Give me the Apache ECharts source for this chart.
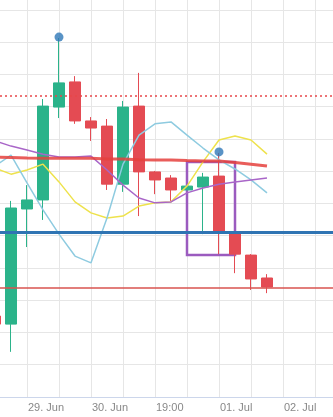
<!DOCTYPE html>
<html><head><meta charset="utf-8">
<script src="https://cdn.jsdelivr.net/npm/echarts@6/dist/echarts.min.js"></script>
<style>html,body{margin:0;padding:0;background:#fff}#c{width:333px;height:417px}</style>
</head><body><div id="c"></div>
<script>
const categories = ['0','1','2','3','4','5','6','7','8','9','10','11','12','13','14','15','16','17','18','19','20','21','22'];
const tickLabels = ['', '', '29. Jun', '', '', '', '30. Jun', '', '', '', '19:00', '', '', '', '01. Jul', '', '', '', '02. Jul', '', '', '', ''];
const opens  = [2.51, 2.26, 5.83, 6.11, 8.99, 9.77, 8.56, 8.40, 6.60, 9.02, 6.98, 6.79, 6.42, 6.51, 6.85, 5.09, 4.40, 3.69];
const closes = [2.26, 5.86, 6.11, 9.02, 9.74, 8.56, 8.34, 6.60, 8.99, 6.98, 6.73, 6.42, 6.54, 6.82, 5.15, 4.43, 3.66, 3.41];
const lows   = [2.20, 1.40, 4.65, 5.49, 8.65, 8.47, 7.94, 6.42, 6.36, 5.61, 6.29, 6.08, 6.42, 5.05, 4.43, 3.84, 3.32, 3.22];
const highs  = [2.64, 6.08, 6.57, 9.24, 11.13, 9.95, 8.68, 8.62, 9.18, 10.05, 7.01, 6.88, 6.54, 6.95, 7.57, 5.15, 4.43, 3.81];
const maRed    = [7.44, 7.43, 7.41, 7.40, 7.40, 7.40, 7.40, 7.38, 7.38, 7.36, 7.35, 7.35, 7.33, 7.32, 7.32, 7.27, 7.22, 7.16];
const maPurple = [7.94, 7.78, 7.66, 7.53, 7.44, 7.44, 7.47, 7.04, 6.57, 6.17, 6.02, 6.05, 6.33, 6.48, 6.60, 6.67, 6.73, 6.79];
const maYellow = [7.10, 6.91, 7.04, 7.22, 6.67, 6.05, 5.71, 5.55, 5.61, 5.92, 6.02, 6.05, 6.54, 7.29, 7.97, 8.09, 7.97, 7.53];
const maBlue   = [7.16, 7.50, 6.64, 5.80, 5.05, 4.37, 4.16, 5.55, 7.22, 8.12, 8.47, 8.53, 8.12, 7.72, 7.35, 7.07, 6.73, 6.33];
const levelBlue = 5.12, levelRed = 3.38, levelDotted = 9.33;
const flagIdx = ['4', '14'];
const flagVal = [11.16, 7.60];
const boxX = ['12', '15'];
const boxY = [7.29, 4.40];

const UP = '#2bb38a', DOWN = '#e44b53';
const chart = echarts.init(document.getElementById('c'), null, {renderer: 'canvas'});
chart.setOption({
  animation: false,
  backgroundColor: '#fff',
  grid: {left: -5, right: -14, top: 0, bottom: 20, containLabel: false, outerBoundsMode: 'none'},
  xAxis: {
    type: 'category', data: categories, boundaryGap: false,
    axisLine: {lineStyle: {color: '#ccd6eb', width: 1}},
    axisTick: {show: false},
    axisLabel: {
      interval: (i) => tickLabels[i] !== '',
      formatter: (v, i) => tickLabels[i],
      align: 'left', margin: 5, padding: [0, 0, 0, 1],
      color: '#888', fontSize: 11, fontFamily: 'Liberation Sans, Arial, sans-serif'
    },
    splitLine: {show: true, interval: 1, lineStyle: {color: '#e6e6e6', width: 1}}
  },
  yAxis: {
    type: 'value', min: 0, max: 12.31, interval: 1,
    axisLabel: {show: false}, axisLine: {show: false}, axisTick: {show: false},
    splitLine: {show: true, showMaxLine: false, lineStyle: {color: '#e6e6e6', width: 1}}
  },
  series: [
    {
      type: 'candlestick', barWidth: 11,
      data: opens.map((o, i) => [o, closes[i], lows[i], highs[i]]),
      itemStyle: {color: UP, color0: DOWN, borderColor: UP, borderColor0: DOWN, borderWidth: 1},
      z: 2
    },
    {type: 'line', data: maYellow, symbol: 'none', lineStyle: {color: '#eee24c', width: 1.5}, z: 3},
    {type: 'line', data: maBlue, symbol: 'none', lineStyle: {color: '#8ecbe0', width: 1.5}, z: 3},
    {type: 'line', data: maPurple, symbol: 'none', lineStyle: {color: '#a966c8', width: 1.5}, z: 3},
    {type: 'line', data: maRed, symbol: 'none', lineStyle: {color: '#e5413d', width: 3, opacity: 0.85}, z: 3},
    {
      type: 'scatter', data: flagIdx.map((x, i) => [x, flagVal[i]]),
      symbol: 'circle', symbolSize: 9, itemStyle: {color: '#2f78b8'}, z: 6,
      markLine: {
        silent: true, symbol: ['none', 'none'], label: {show: false},
        data: [
          {yAxis: levelBlue, lineStyle: {color: '#2f74b3', width: 3, type: 'solid'}},
          {yAxis: levelRed, lineStyle: {color: '#d9534f', width: 1.5, type: 'solid'}},
          {yAxis: levelDotted, lineStyle: {color: '#e8474a', width: 1.5, type: [2, 3]}}
        ]
      },
      markArea: {
        silent: true,
        itemStyle: {color: 'rgba(0,0,0,0)', borderColor: '#9b5bbf', borderWidth: 2.5},
        data: [[{xAxis: boxX[0], yAxis: boxY[0]}, {xAxis: boxX[1], yAxis: boxY[1]}]]
      }
    }
  ]
});
</script></body></html>
